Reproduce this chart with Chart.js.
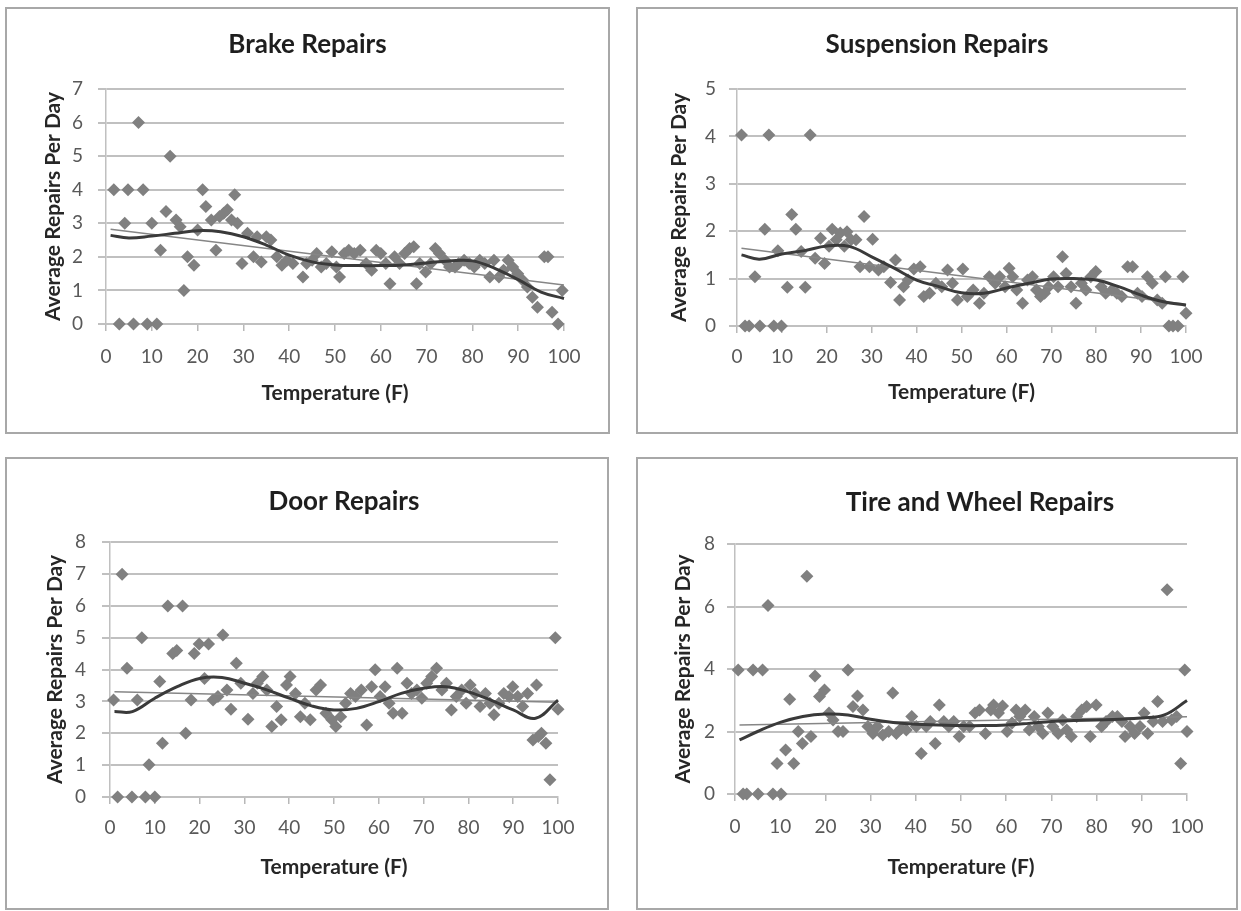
<!DOCTYPE html>
<html>
<head>
<meta charset="utf-8">
<title>Repairs vs Temperature</title>
<script src="https://cdn.jsdelivr.net/npm/chart.js@4.4.1/dist/chart.umd.min.js"></script>
<style>
  html, body { margin: 0; padding: 0; background: #fff; width: 1241px; height: 911px; overflow: hidden; }
  .frame { position: absolute; box-sizing: border-box; border: 2px solid #a8a8a8; }
  canvas { position: absolute; }
</style>
</head>
<body>
<div class="frame" style="left:5px;top:7px;width:605px;height:427px"></div>
<div class="frame" style="left:636px;top:7px;width:602px;height:427px"></div>
<div class="frame" style="left:5px;top:457px;width:604px;height:453px"></div>
<div class="frame" style="left:636px;top:457px;width:602px;height:453px"></div>

<canvas id="brake" width="601" height="423" style="left:7px;top:9px"></canvas>
<canvas id="suspension" width="598" height="423" style="left:638px;top:9px"></canvas>
<canvas id="door" width="674" height="450" style="left:7px;top:459px"></canvas>
<canvas id="tire" width="684" height="449" style="left:638px;top:459px"></canvas>

<script>
// [temperature, average repairs per day]
const brakePoints = [
  [1.7,4],[2.9,0],[4.1,3],[4.8,4],[6,0],[7.1,6],[8.1,4],[9,0],[10,3],[11.1,0],
  [11.9,2.2],[13.1,3.35],[14,5],[15.3,3.1],[16.2,2.9],[17,1],[17.8,2],[19.2,1.75],[20,2.8],[21.1,4],
  [21.8,3.5],[23,3.1],[24,2.2],[24.8,3.2],[25.7,3.3],[26.5,3.4],[27.4,3.1],[28.1,3.85],[28.7,3],[29.7,1.8],
  [30.9,2.7],[32.2,2],[33,2.6],[33.9,1.85],[35,2.6],[36,2.5],[37.3,2],[38.4,1.75],[39.5,1.9],[40.8,1.8],
  [43,1.4],[43.8,1.8],[45,1.9],[46,2.1],[47,1.7],[48.1,1.8],[49.3,2.15],[50.3,1.7],[51,1.4],[52,2.1],
  [53,2.2],[54.2,2.1],[55.5,2.2],[56.8,1.8],[58,1.6],[59,2.2],[60,2.1],[61.1,1.8],[62,1.2],[63,2],
  [64.1,1.8],[65.2,2.1],[66.3,2.25],[67.2,2.3],[67.8,1.2],[68.5,1.8],[69.8,1.55],[70.9,1.8],[71.9,2.25],[72.8,2.1],
  [74,1.9],[75,1.7],[76.2,1.7],[77,1.8],[78.2,1.9],[79.3,1.8],[80.4,1.7],[81.6,1.9],[82.7,1.8],[83.8,1.4],
  [84.7,1.9],[85.8,1.4],[86.8,1.6],[87.8,1.9],[88.8,1.7],[89.9,1.5],[91,1.3],[92,1.1],[93.1,0.8],[94.2,0.5],
  [95.7,2],[96.5,2],[97.4,0.35],[98.7,0],[99.6,1]
];

const suspensionPoints = [
  [1,4.03],[1.8,0],[2.7,0],[4,1.04],[5.1,0],[6.2,2.04],[7.1,4.03],[8.2,0],[9.1,1.59],[9.9,0],
  [11.2,0.82],[12.2,2.35],[13.1,2.04],[14.3,1.57],[15.2,0.82],[16.3,4.03],[17.4,1.43],[18.6,1.85],[19.5,1.32],[20.5,1.68],
  [21.2,2.04],[22.1,1.82],[23,1.96],[23.9,1.68],[24.5,1.99],[25.4,1.82],[26.5,1.82],[27.4,1.25],[28.3,2.31],[29.5,1.25],
  [30.2,1.83],[31.5,1.18],[32.7,1.25],[34.2,0.92],[35.3,1.39],[36.2,0.55],[37.1,0.83],[38.1,0.97],[39.4,1.2],[40.8,1.25],
  [41.6,0.62],[42.9,0.69],[44.3,0.9],[45.6,0.83],[46.9,1.18],[48,0.9],[49.1,0.55],[50.3,1.2],[51.3,0.62],[52.6,0.76],
  [54,0.48],[55,0.69],[56.2,1.04],[57.5,0.9],[58.5,1.04],[59.7,0.83],[60.6,1.22],[61.4,1.04],[62.3,0.76],[63.6,0.48],
  [64.7,0.97],[65.8,1.04],[66.7,0.76],[67.6,0.62],[68.5,0.69],[69.4,0.83],[70.5,1.04],[71.5,0.83],[72.5,1.46],[73.3,1.11],
  [74.4,0.83],[75.5,0.48],[76.7,0.9],[77.7,0.76],[78.8,1.04],[79.9,1.15],[81.1,0.83],[82.1,0.69],[83.5,0.76],[84.6,0.69],
  [85.7,0.62],[87,1.25],[88.1,1.25],[89.2,0.69],[90.2,0.62],[91.4,1.04],[92.5,0.9],[93.6,0.55],[94.7,0.48],[95.4,1.04],
  [96.2,0],[97.1,0],[98.2,0],[99.3,1.04],[100,0.27]
];

const doorPoints = [
  [0.8,3.04],[1.7,0],[2.7,6.99],[3.8,4.04],[4.9,0],[6.1,3.04],[7.1,5],[7.9,0],[8.7,1.01],[10,0],
  [11.1,3.62],[11.7,1.69],[12.9,5.99],[14,4.5],[14.9,4.6],[16.2,5.99],[16.9,2],[18.1,3.04],[18.8,4.5],[19.9,4.8],
  [21.1,3.72],[22,4.8],[23,3.04],[24.1,3.15],[25.2,5.08],[26.1,3.36],[27,2.75],[28.2,4.2],[29.2,3.57],[30.8,2.44],
  [31.9,3.25],[32.9,3.57],[34.1,3.78],[35,3.36],[36.1,2.21],[37.2,2.84],[38.2,2.42],[39.4,3.51],[40.2,3.78],[41.4,3.25],
  [42.5,2.52],[43.5,2.94],[44.7,2.42],[46,3.36],[47,3.51],[48.2,2.63],[49.5,2.42],[50.4,2.21],[51.5,2.52],[52.6,2.94],
  [53.7,3.25],[54.8,3.15],[56.1,3.36],[57.3,2.26],[58.4,3.46],[59.2,3.99],[60.3,3.15],[61.4,3.46],[62.3,2.94],[63.2,2.63],
  [64.1,4.04],[65.2,2.63],[66.3,3.57],[67.3,3.25],[68.5,3.36],[69.6,3.1],[70.7,3.57],[71.8,3.78],[72.9,4.04],[74.1,3.36],
  [75.1,3.57],[76.2,2.73],[77.3,3.15],[78.5,3.36],[79.5,2.94],[80.4,3.51],[81.5,3.25],[82.6,2.84],[83.8,3.25],[84.8,2.94],
  [85.7,2.58],[86.8,2.94],[87.9,3.25],[89.1,3.15],[89.9,3.46],[91,3.15],[92.1,2.84],[93.2,3.25],[94.4,1.79],[95.2,3.51],
  [95.6,1.9],[96.3,2],[97.3,1.69],[98.2,0.54],[99.4,5],[100,2.75]
];

const tirePoints = [
  [0.7,3.97],[1.8,0],[2.6,0],[4,3.97],[5.1,0],[6.1,3.97],[7.3,6.03],[8.4,0],[9.3,0.98],[10.2,0],
  [11.2,1.41],[12.1,3.03],[13,0.98],[14,2],[14.9,1.62],[15.9,6.97],[16.8,1.84],[17.7,3.78],[18.7,3.12],[19.8,3.33],
  [20.8,2.59],[21.7,2.37],[22.8,2],[23.9,2],[25,3.97],[26.1,2.8],[27.1,3.14],[28.3,2.69],[29.4,2.16],[30.5,1.94],
  [31.5,2.16],[32.7,1.89],[34,2],[34.9,3.23],[35.7,1.94],[36.8,2.1],[37.9,2.05],[39.1,2.48],[40.1,2.16],[41.2,1.3],
  [42.3,2.16],[43.2,2.32],[44.3,1.62],[45.2,2.85],[46.2,2.32],[47.3,2.16],[48.4,2.32],[49.6,1.84],[50.6,2.16],[51.9,2.16],
  [53.1,2.59],[54.1,2.69],[55.4,1.94],[56.6,2.69],[57.2,2.85],[58.3,2.59],[59.2,2.82],[60.2,2],[61.3,2.27],[62.2,2.69],
  [63,2.48],[64.2,2.69],[65.1,2.05],[66.2,2.48],[67.1,2.16],[68.1,1.94],[69.2,2.59],[70.3,2.16],[71.5,1.94],[72.5,2.37],
  [73.4,2.05],[74.4,1.84],[75.6,2.48],[76.7,2.69],[77.8,2.8],[78.6,1.84],[79.9,2.85],[81.1,2.16],[82.1,2.32],[83.5,2.48],
  [84.6,2.48],[85.6,2.32],[86.3,1.84],[87.4,2.16],[88.4,1.94],[89.6,2.16],[90.5,2.59],[91.3,1.94],[92.5,2.32],[93.5,2.96],
  [94.6,2.32],[95.6,6.54],[96.6,2.37],[97.7,2.48],[98.6,0.98],[99.5,3.97],[100,2]
];

// trend lines at these temperatures
const trendTemps = [1, 5, 10, 15, 20, 25, 30, 35, 40, 45, 50, 55, 60, 65, 70, 75, 80, 85, 90, 95, 100];
const brakePoly      = [2.64, 2.56, 2.62, 2.70, 2.78, 2.75, 2.60, 2.35, 2.05, 1.85, 1.76, 1.74, 1.74, 1.76, 1.82, 1.88, 1.88, 1.65, 1.32, 0.95, 0.76];
const suspensionPoly = [1.50, 1.41, 1.52, 1.59, 1.69, 1.68, 1.46, 1.22, 0.97, 0.83, 0.70, 0.69, 0.80, 0.90, 0.99, 1.00, 0.97, 0.83, 0.65, 0.51, 0.44];
const doorPoly       = [2.68, 2.68, 3.10, 3.46, 3.72, 3.75, 3.57, 3.36, 3.10, 2.86, 2.73, 2.78, 2.99, 3.25, 3.41, 3.46, 3.30, 3.04, 2.73, 2.47, 3.04];
const tirePoly       = [1.73, 2.00, 2.29, 2.48, 2.56, 2.53, 2.39, 2.29, 2.23, 2.21, 2.19, 2.19, 2.21, 2.26, 2.32, 2.35, 2.37, 2.39, 2.43, 2.53, 2.99];

const linearTemps = [1, 100];
const brakeLinear      = [2.82, 1.16];
const suspensionLinear = [1.64, 0.46];
const doorLinear       = [3.30, 2.97];
const tireLinear       = [2.21, 2.47];

const FONT = "Lato, 'Open Sans', sans-serif";
const GRID = '#c0c0c0';

// centre the chart title on the whole canvas, not on the padded box
const centreTitle = {
  id: 'centreTitle',
  afterLayout(chart) {
    const t = chart.titleBlock;
    if (!t) return;
    t.left = 0;
    t.right = chart.width;
    t.width = chart.width;
  }
};

function toXY(xs, ys) {
  return xs.map((x, i) => ({ x: x, y: ys[i] }));
}

function makeChart(id, title, points, poly, linear, yMax, yStep, box) {
  new Chart(document.getElementById(id), {
    type: 'scatter',
    plugins: [centreTitle],
    data: {
      datasets: [
        {
          data: toXY(trendTemps, poly),
          showLine: true,
          borderColor: '#3a3a3a',
          borderWidth: 3,
          tension: 0.4,
          pointRadius: 0,
          clip: false,
          order: 0
        },
        {
          data: toXY(linearTemps, linear),
          showLine: true,
          borderColor: '#868686',
          borderWidth: 1.5,
          pointRadius: 0,
          order: 1
        },
        {
          data: points.map(p => ({ x: p[0], y: p[1] })),
          pointStyle: 'rectRot',
          pointRadius: 6.5,
          backgroundColor: '#808080',
          borderWidth: 0,
          clip: false,
          order: 2
        }
      ]
    },
    options: {
      responsive: false,
      animation: false,
      events: [],
      layout: { padding: { left: 0, right: box.padRight, top: 0, bottom: 0 } },
      plugins: {
        legend: { display: false },
        tooltip: { enabled: false },
        title: {
          display: true,
          text: title,
          color: '#1e1e1e',
          font: { family: FONT, size: 26, weight: 'bold' },
          padding: { top: box.titleTop, bottom: box.titleBottom }
        }
      },
      scales: {
        x: {
          type: 'linear',
          min: 0,
          max: 100,
          ticks: { stepSize: 10, autoSkip: false, maxRotation: 0, color: '#595959', font: { family: FONT, size: 19 }, padding: box.xTickPad },
          grid: { drawOnChartArea: false, drawTicks: true, tickLength: 7, color: '#b8b8b8', lineWidth: 1.5 },
          border: { color: GRID, width: 2 },
          title: {
            display: true,
            text: 'Temperature (F)',
            color: '#262626',
            font: { family: FONT, size: 21, weight: 'bold' },
            padding: { top: 0, bottom: box.xTitlePad }
          },
          afterFit: s => { s.height = box.xHeight; }
        },
        y: {
          min: 0,
          max: yMax,
          ticks: { stepSize: yStep, color: '#595959', font: { family: FONT, size: 19 }, padding: box.yTickPad },
          grid: { color: GRID, lineWidth: 2, tickLength: 8 },
          border: { color: GRID, width: 1.5 },
          title: {
            display: true,
            text: 'Average Repairs Per Day',
            color: '#262626',
            font: { family: FONT, size: 21, weight: 'bold' },
            padding: { top: box.yTitlePad, bottom: 0 }
          },
          afterFit: s => { s.width = box.yWidth; }
        }
      }
    }
  });
}

makeChart('brake', 'Brake Repairs', brakePoints, brakePoly, brakeLinear, 7, 1,
  { padRight: 44, titleTop: 20.4, titleBottom: 28.4, yWidth: 99, xHeight: 108, yTitlePad: 33.4, yTickPad: 15, xTickPad: 14.6, xTitlePad: 26.4 });
makeChart('suspension', 'Suspension Repairs', suspensionPoints, suspensionPoly, suspensionLinear, 5, 1,
  { padRight: 50, titleTop: 20.4, titleBottom: 28.4, yWidth: 99, xHeight: 106, yTitlePad: 28.4, yTickPad: 13, xTickPad: 12.6, xTitlePad: 27.4 });
makeChart('door', 'Door Repairs', doorPoints, doorPoly, doorLinear, 8, 1,
  { padRight: 123, titleTop: 27.4, titleBottom: 24.4, yWidth: 103, xHeight: 112, yTitlePad: 35.4, yTickPad: 16, xTickPad: 12.6, xTitlePad: 29.4 });
makeChart('tire', 'Tire and Wheel Repairs', tirePoints, tirePoly, tireLinear, 8, 2,
  { padRight: 135, titleTop: 28.4, titleBottom: 25.4, yWidth: 97, xHeight: 114, yTitlePad: 32.4, yTickPad: 12, xTickPad: 14.6, xTitlePad: 28.4 });
</script>
</body>
</html>
